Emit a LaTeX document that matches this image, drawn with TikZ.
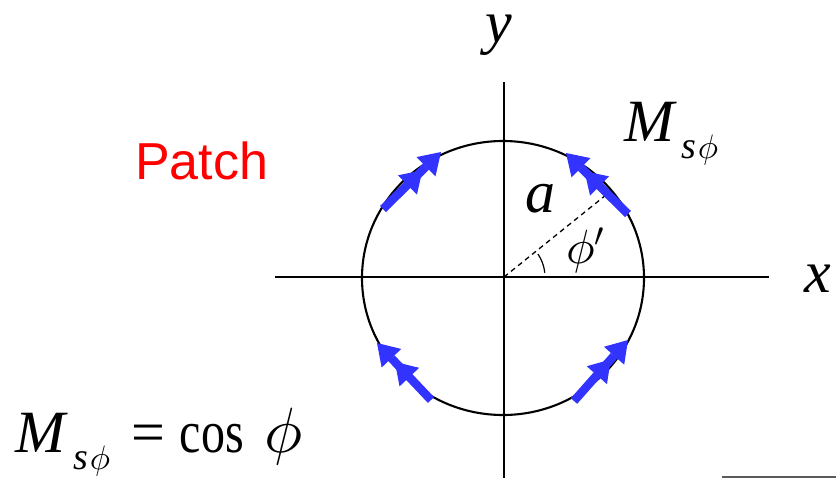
\documentclass[tikz,border=0pt]{standalone}
\DeclareFontFamily{OML}{cmm}{\skewchar\font'177}
\DeclareFontShape{OML}{cmm}{m}{it}{<->cmmi10}{}
\DeclareFontFamily{OMS}{cmsy}{\skewchar\font'60}
\DeclareFontShape{OMS}{cmsy}{m}{n}{<->cmsy10}{}
\usepackage{fontspec}
\setmainfont{Liberation Serif}
\newfontfamily\patchfont{Liberation Sans}
\usetikzlibrary{arrows.meta}
\definecolor{arrowblue}{RGB}{51,51,255}
\definecolor{patchred}{RGB}{255,0,0}
\definecolor{rulegray}{RGB}{90,90,90}
\newcommand{\bigit}{\fontsize{60}{60}\selectfont\itshape}
\newcommand{\subsphi}{\raisebox{-17pt}{\fontsize{38}{38}\selectfont\itshape s\hspace{1pt}\fontsize{34}{34}\selectfont$\phi$}}
\begin{document}
\begin{tikzpicture}[x=1pt,y=-1pt,
  lbl/.style={inner sep=0pt, outer sep=0pt, anchor=base west},
  axis/.style={line width=1.9pt, black},
  ring/.style={line width=2.1pt, black},
  magarrow/.style={arrowblue, line width=8.5pt,
    -{Triangle[length=21pt,width=27pt,line width=0pt,sep=5pt]Triangle[length=21pt,width=27pt,line width=0pt]}},
]
\useasboundingbox (0,0) rectangle (836,478);
% axes
\coordinate (O) at (504,277);
\coordinate (xl) at (275,277);
\coordinate (xr) at (769,277);
\coordinate (yt) at (504,82);
\coordinate (yb) at (504,478);
\draw[axis] (xl) -- (xr);
\draw[axis] (yt) -- (yb);
% circle
\draw[ring] (503,278) ellipse [x radius=141, y radius=137];
% radius and angle
\coordinate (R) at (606,195);
\draw[line width=1.3pt, dash pattern=on 5pt off 4pt] (O) -- (R);
\draw[line width=1.2pt] (O) ++(-6:41) arc[start angle=-6, end angle=-34, radius=41];
% magnetic current arrows
\coordinate (tlA) at (383,209); \coordinate (tlB) at (441,152);
\coordinate (trA) at (628,214); \coordinate (trB) at (566,153);
\coordinate (blA) at (431,400); \coordinate (blB) at (377,343);
\coordinate (brA) at (574,401); \coordinate (brB) at (628,340);
\draw[magarrow] (tlA) -- (tlB);
\draw[magarrow] (trA) -- (trB);
\draw[magarrow] (blA) -- (blB);
\draw[magarrow] (brA) -- (brB);
% labels
\node[lbl, text height=28pt] (ylab) at (485,43) {\bigit y};
\node[lbl] (xlab) at (804,293) {\bigit x};
\node[lbl] (alab) at (525,213) {\bigit a};
\node[lbl] (philab) at (566,264) {\fontsize{48}{48}\selectfont$\phi'$};
\node[lbl] (mtop) at (624,142) {\bigit M\hspace{8pt}\subsphi};
\node[lbl, text=patchred, font=\patchfont\fontsize{52}{52}\selectfont] (patch) at (135,180) {Patch};
\node[lbl] (eq) at (16,453) {\bigit M\hspace{8pt}\subsphi\hspace{21pt}\upshape=\hspace{15pt}\scalebox{0.8}[1]{cos}\hspace{21pt}\fontsize{64}{64}\selectfont$\phi$};
% bottom rule
\coordinate (gl) at (722,477);
\coordinate (gr) at (836,477);
\draw[rulegray, line width=1.5pt] (gl) -- (gr);
\end{tikzpicture}
\end{document}
